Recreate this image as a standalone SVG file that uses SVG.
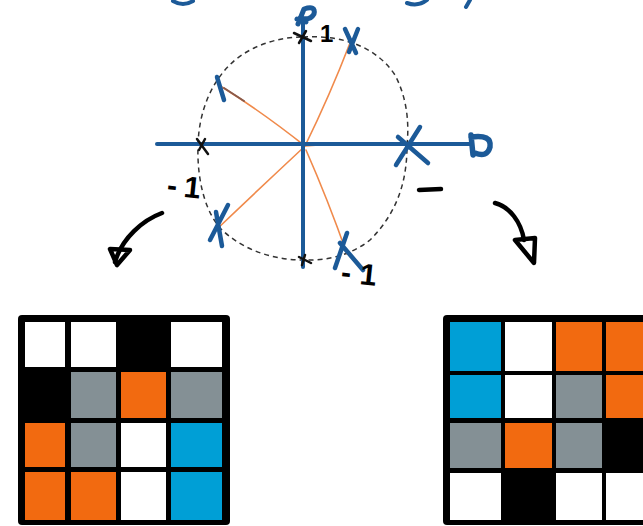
<svg xmlns="http://www.w3.org/2000/svg" width="643" height="526" viewBox="0 0 643 526">
  <style>
    .axis { stroke: #1c5a98; stroke-width: 4; fill: none; stroke-linecap: round; stroke-linejoin: round; }
    .mark { stroke: #1c5a98; stroke-width: 4.5; fill: none; stroke-linecap: round; }
    .ray { stroke: #f08a4b; stroke-width: 1.6; fill: none; stroke-linecap: round; }
    .tick { stroke: #111; stroke-width: 2.5; fill: none; stroke-linecap: round; }
    .ink { stroke: #000; stroke-width: 4.5; fill: none; stroke-linecap: round; stroke-linejoin: round; }
    .circle { stroke: #333; stroke-width: 1.5; fill: none; stroke-dasharray: 5 4; }
    .lbl { font-family: "Liberation Sans", Arial, sans-serif; font-weight: bold; fill: #000; }
    .w { fill: #ffffff; }
    .k { fill: #000000; }
    .g { fill: #849095; }
    .o { fill: #f26a10; }
    .b { fill: #009fd6; }
  </style>
  <rect width="643" height="526" fill="#ffffff"/>

  <!-- strokes of a heading cut off at the top edge -->
  <g id="heading-fragments" class="axis">
    <path d="M173,1 Q183,7 193,1"/>
    <path d="M407,3 Q418,7 427,0"/>
    <path d="M470,0 L466,7"/>
  </g>

  <!-- unit circle -->
  <g id="unit-circle">
    <path class="circle" d="M303,37 C340,35 375,45 395,75 C408,100 409,125 407,146 C407,185 395,215 370,240 C350,256 325,261 303,260 C270,260 240,248 220,228 C203,208 197,175 198,145 C199,110 212,80 235,60 C255,44 280,37 303,37 Z"/>
  </g>

  <!-- rays from the origin to each root -->
  <g id="rays" class="ray">
    <path d="M305,146 Q330,95 350,43"/>
    <path d="M305,146 Q262,112 222,87"/>
    <path d="M305,146 Q355,141 404,144"/>
    <path d="M304,147 Q258,190 216,230"/>
    <path d="M306,150 Q328,200 347,254"/>
    <path d="M224,88 L244,101" stroke="#8a5a4a" stroke-width="2"/>
  </g>

  <!-- axes -->
  <g id="axes" class="axis">
    <path d="M157,144 L470,144"/>
    <path d="M303,20 L303,267"/>
    <!-- arrow tips -->
    <path d="M298,24 L304,9 Q316,5 314,14 Q310,21 300,18 M297,19 L306,22" stroke-width="5"/>
    <path d="M471,135 L473,155 M471,137 Q492,134 490,147 Q487,158 475,153" stroke-width="5.5"/>
  </g>

  <!-- small black ticks on the axes -->
  <g id="ticks" class="tick">
    <path d="M294,33 L311,41 M306,31 L299,43"/>
    <path d="M197,139 L208,154 M205,139 L199,150"/>
    <path d="M299,257 L311,263 M305,255 L302,265"/>
  </g>

  <!-- root markers -->
  <g id="roots" class="mark">
    <path d="M345,29 L356,53 M358,29 L349,52"/>
    <path d="M217,77 L224,100"/>
    <path d="M398,137 L428,163 M420,127 L396,165"/>
    <path d="M228,205 L210,240 M216,212 L222,246"/>
    <path d="M347,233 L335,268 M340,243 L363,270"/>
  </g>

  <!-- labels -->
  <g id="labels">
    <text class="lbl" x="320" y="42" font-size="24">1</text>
    <text class="lbl" x="167" y="197" font-size="30" letter-spacing="7" transform="rotate(6 185 188)">-1</text>
    <text class="lbl" x="341" y="284" font-size="30" letter-spacing="9" transform="rotate(6 360 275)">-1</text>
    <path class="ink" d="M419,190 L441,189"/>
  </g>

  <!-- curved arrows towards the grids -->
  <g id="connectors" class="ink">
    <path d="M162,213 C143,220 122,238 115,262"/>
    <path d="M110,249 L130,250 L117,265 Z"/>
    <path d="M495,203 C510,207 521,222 524,240"/>
    <path d="M515,240 L535,238 L534,263 Z"/>
  </g>

  <!-- left grid -->
  <g id="grid-left">
    <rect x="18" y="315" width="212" height="210" rx="4" class="k"/>
    <rect x="25" y="322" width="40" height="45" class="w"/>
    <rect x="71" y="322" width="45" height="45" class="w"/>
    <rect x="121" y="322" width="45" height="45" class="k"/>
    <rect x="171" y="322" width="51" height="45" class="w"/>

    <rect x="25" y="372" width="40" height="46" class="k"/>
    <rect x="71" y="372" width="45" height="46" class="g"/>
    <rect x="121" y="372" width="45" height="46" class="o"/>
    <rect x="171" y="372" width="51" height="46" class="g"/>

    <rect x="25" y="423" width="40" height="44" class="o"/>
    <rect x="71" y="423" width="45" height="44" class="g"/>
    <rect x="121" y="423" width="45" height="44" class="w"/>
    <rect x="171" y="423" width="51" height="44" class="b"/>

    <rect x="25" y="472" width="40" height="48" class="o"/>
    <rect x="71" y="472" width="45" height="48" class="o"/>
    <rect x="121" y="472" width="45" height="48" class="w"/>
    <rect x="171" y="472" width="51" height="48" class="b"/>
  </g>

  <!-- right grid -->
  <g id="grid-right">
    <rect x="443" y="315" width="210" height="210" rx="4" class="k"/>
    <rect x="450" y="322" width="51" height="49" class="b"/>
    <rect x="505" y="322" width="47" height="49" class="w"/>
    <rect x="556" y="322" width="46" height="49" class="o"/>
    <rect x="606" y="322" width="45" height="49" class="o"/>

    <rect x="450" y="375" width="51" height="43" class="b"/>
    <rect x="505" y="375" width="47" height="43" class="w"/>
    <rect x="556" y="375" width="46" height="43" class="g"/>
    <rect x="606" y="375" width="45" height="43" class="o"/>

    <rect x="450" y="423" width="51" height="45" class="g"/>
    <rect x="505" y="423" width="47" height="45" class="o"/>
    <rect x="556" y="423" width="46" height="45" class="g"/>
    <rect x="606" y="423" width="45" height="45" class="k"/>

    <rect x="450" y="473" width="51" height="47" class="w"/>
    <rect x="505" y="473" width="47" height="47" class="k"/>
    <rect x="556" y="473" width="46" height="47" class="w"/>
    <rect x="606" y="473" width="45" height="47" class="w"/>
  </g>
</svg>
